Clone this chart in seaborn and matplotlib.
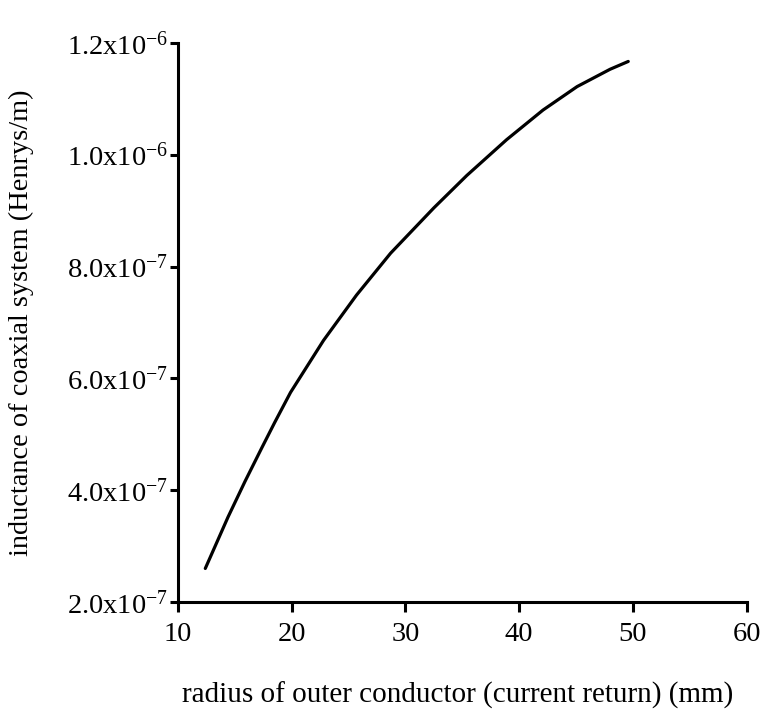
import matplotlib
matplotlib.use("Agg")
import matplotlib.pyplot as plt
import seaborn as sns
import pandas as pd

# Data
radius_mm = [12.4, 14.4, 15.9, 17.4, 18.5, 19.9, 22.8, 25.7, 28.7, 32.5,
             35.4, 38.9, 42.1, 45.1, 48.0, 49.6]
inductance_e7 = [2.60, 3.52, 4.16, 4.77, 5.21, 5.75, 6.68, 7.49, 8.24, 9.05,
                 9.63, 10.27, 10.80, 11.22, 11.53, 11.67]
x_ticks = [10, 20, 30, 40, 50, 60]
y_ticks = [2.0e-7, 4.0e-7, 6.0e-7, 8.0e-7, 1.0e-6, 1.2e-6]
y_tick_labels = ["2.0x10$^{-7}$", "4.0x10$^{-7}$", "6.0x10$^{-7}$",
                 "8.0x10$^{-7}$", "1.0x10$^{-6}$", "1.2x10$^{-6}$"]
x_label = "radius of outer conductor (current return) (mm)"
y_label = "inductance of coaxial system (Henrys/m)"

sns.set_theme(style="ticks")
plt.rcParams["font.family"] = ["Liberation Serif", "DejaVu Serif"]
plt.rcParams["mathtext.fontset"] = "custom"
plt.rcParams["mathtext.rm"] = "Liberation Serif"
plt.rcParams["mathtext.it"] = "Liberation Serif:italic"
plt.rcParams["mathtext.bf"] = "Liberation Serif:bold"

df = pd.DataFrame({"radius": radius_mm,
                   "inductance": [v * 1e-7 for v in inductance_e7]})

fig = plt.figure(figsize=(7.67, 7.10), dpi=100)
ax = fig.add_axes([178 / 767, 1 - 602 / 710, (746.5 - 178) / 767, (602 - 43) / 710])

sns.lineplot(data=df, x="radius", y="inductance", ax=ax, color="black",
             linewidth=2.3, sort=True)

ax.set_xlim(10, 60)
ax.set_ylim(2.0e-7, 1.2e-6)
ax.set_xticks(x_ticks)
ax.set_xticklabels([str(t) for t in x_ticks])
ax.set_yticks(y_ticks)
ax.set_yticklabels(y_tick_labels)

for side in ["top", "right"]:
    ax.spines[side].set_visible(False)
for side in ["left", "bottom"]:
    ax.spines[side].set_linewidth(2.2)
    ax.spines[side].set_color("black")

ax.tick_params(axis="x", direction="out", length=7.5, width=2.2, pad=7,
               labelsize=20.5, colors="black")
ax.tick_params(axis="y", direction="out", length=6, width=2.2, pad=1,
               labelsize=20.5, colors="black")

ax.set_xlabel(x_label, fontsize=21, color="black")
ax.set_ylabel(y_label, fontsize=20.4, color="black")
ax.xaxis.set_label_coords(0.491, -0.143)
ax.yaxis.set_label_coords(-0.253, 0.5)

ax.grid(False)
ax.set_facecolor("white")
fig.patch.set_facecolor("white")

fig.savefig("out.png", dpi=100, facecolor="white")
